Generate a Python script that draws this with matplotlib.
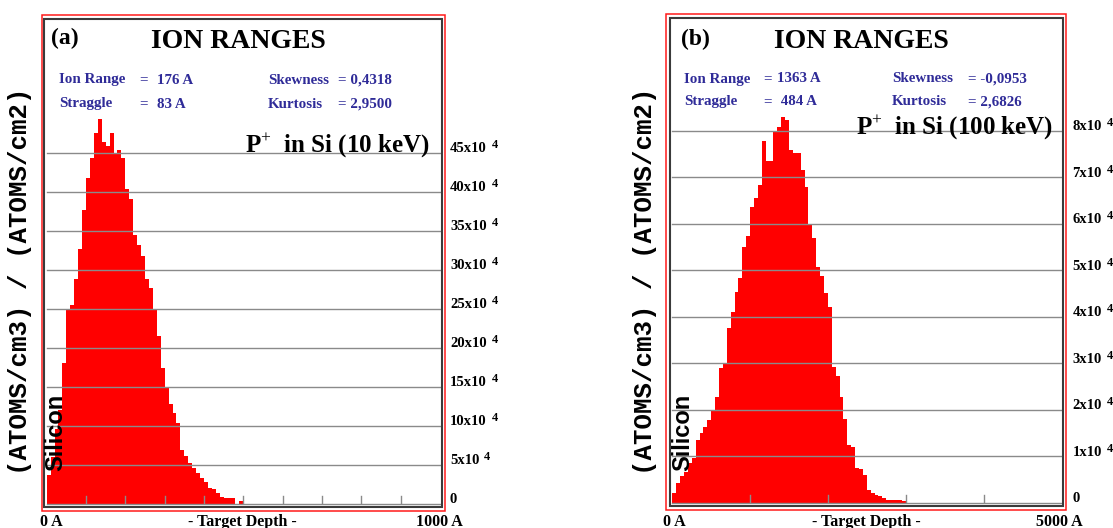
import matplotlib
matplotlib.use("Agg")
import matplotlib.pyplot as plt
from matplotlib.patches import Rectangle
import numpy as np

W, H = 1113, 528

# implanted P profiles, concentration in units of 10^4 (atoms/cm3)/(atoms/cm2)
bin_a = 10      # Angstrom
conc_a = [3.7, 6.0, 9.5, 12.0, 18.0, 24.9, 25.5, 28.8, 32.6, 37.7,
          41.8, 44.3, 47.5, 49.3, 46.4, 45.8, 47.5, 45.0, 45.4, 44.3,
          40.3, 39.0, 34.4, 33.2, 31.7, 28.8, 27.6, 24.9, 21.5, 17.4,
          14.8, 12.7, 11.6, 10.3, 6.9, 6.1, 5.2, 4.6, 3.9, 3.3,
          2.7, 2.0, 1.8, 1.4, 0.8, 0.7, 0.7, 0.7, 0.0, 0.3]
grid_a = [0, 5, 10, 15, 20, 25, 30, 35, 40, 45]
depth_max_a = 1000

bin_b = 50
conc_b = [0.21, 0.42, 0.57, 0.67, 0.85, 0.97, 1.35, 1.50, 1.64, 1.78,
          2.00, 2.28, 2.90, 3.00, 3.76, 4.10, 4.54, 4.83, 5.51, 5.73,
          6.35, 6.55, 6.84, 7.77, 7.34, 7.34, 7.98, 8.08, 8.30, 8.22,
          7.59, 7.53, 7.53, 7.16, 6.80, 5.98, 5.69, 5.08, 4.87, 4.51,
          4.22, 2.93, 2.72, 2.28, 1.80, 1.25, 1.21, 0.75, 0.72, 0.60,
          0.28, 0.21, 0.18, 0.16, 0.11, 0.07, 0.07, 0.06, 0.06, 0.05]
grid_b = [0, 1, 2, 3, 4, 5, 6, 7, 8]
depth_max_b = 5000

stats_a = [("Ion Range", "=", "176 A"), ("Straggle", "=", "83 A")]
moments_a = [("Skewness", "= 0,4318"), ("Kurtosis", "= 2,9500")]
stats_b = [("Ion Range", "=", "1363 A"), ("Straggle", "=", " 484 A")]
moments_b = [("Skewness", "= -0,0953"), ("Kurtosis", "= 2,6826")]

SERIF = "Liberation Serif"
plt.rcParams["mathtext.fontset"] = "custom"
plt.rcParams["mathtext.rm"] = SERIF
plt.rcParams["mathtext.bf"] = SERIF + ":bold"


def fbox(left, top, right, bottom):
    return [left / W, 1 - bottom / H, (right - left) / W, (bottom - top) / H]


def fpt(x, y):
    return x / W, 1 - y / H


def frame(fig, left, top, right, bottom, color, lw):
    x, y, w, h = fbox(left, top, right, bottom)
    fig.add_artist(Rectangle((x, y), w, h, transform=fig.transFigure,
                             fill=False, edgecolor=color, linewidth=lw))


def panel(fig, conc, bw, xmax, grid, tick_step, lay):
    # outer red border and dark inner border
    frame(fig, *lay["red"], "#ff1a1a", 1.1)
    frame(fig, *lay["dark"], "#3a3a3a", 1.5)

    left, right, base, top, top_val, top_px = lay["plot"]
    ax = fig.add_axes(fbox(left, top, right, base))
    ax.patch.set_alpha(0)
    for s in ax.spines.values():
        s.set_visible(False)
    ax.set_xticks([])
    ax.set_yticks([])
    ax.set_xlim(0, xmax)
    ax.set_ylim(0, top_val * (base - top) / (base - top_px))

    edges = np.arange(len(conc) + 1) * bw
    ax.stairs(conc, edges, fill=True, color="#ff0000", linewidth=0, zorder=1)

    for v in grid:
        ax.axhline(v, color="#8a8a8a", linewidth=1.0, zorder=2, clip_on=False)
    for t in np.arange(tick_step, xmax, tick_step):
        ax.plot([t, t], [0, 0.016], transform=ax.get_xaxis_transform(),
                color="#8a8a8a", linewidth=1.0, zorder=2)

    # right-hand scale labels
    for v in grid:
        if v == 0:
            ax.annotate("0", xy=(1, v), xycoords=("axes fraction", "data"),
                        xytext=(lay["lab_dx"], 4), textcoords="offset pixels",
                        ha="left", va="center", fontsize=10.5, family=SERIF,
                        fontweight="bold", annotation_clip=False)
            continue
        t = ax.annotate(f"{v}x10", xy=(1, v), xycoords=("axes fraction", "data"),
                        xytext=(lay["lab_dx"], 4), textcoords="offset pixels",
                        ha="left", va="center", fontsize=10.5, family=SERIF,
                        fontweight="bold", annotation_clip=False)
        ax.annotate("4", xy=(1, 1), xycoords=t, xytext=(5, 3),
                    textcoords="offset pixels", ha="left", va="top",
                    fontsize=9, family=SERIF, fontweight="bold",
                    annotation_clip=False)

    # headings
    fig.text(*fpt(*lay["tag"]), lay["tag_text"], ha="center", va="center",
             fontsize=17, family=SERIF, fontweight="bold")
    fig.text(*fpt(*lay["title"]), "ION RANGES", ha="center", va="center",
             fontsize=20, family=SERIF, fontweight="bold")

    blue = "#2f2b98"
    (c1, c2, c3, c4, c5), (r1, r2) = lay["cols"], lay["rows"]
    for (name, eq, val), (mname, mval), y in zip(lay["stats"], lay["moments"], (r1, r2)):
        for x, s in ((c1, name), (c2, eq), (c3, val), (c4, mname), (c5, mval)):
            fig.text(*fpt(x, y), s, ha="left", va="center", fontsize=10.8,
                     family=SERIF, fontweight="bold", color=blue)

    fig.text(*fpt(*lay["ion"]), lay["ion_text"], ha="right", va="baseline",
             fontsize=18, family=SERIF, fontweight="bold")

    fig.text(*fpt(*lay["ylab"]), "(ATOMS/cm3) / (ATOMS/cm2)", rotation=90,
             ha="center", va="center", fontsize=18.5,
             family="Liberation Mono", fontweight="bold")
    fig.text(*fpt(*lay["target"]), "Silicon", rotation=90, ha="center",
             va="center", fontsize=17, family="Liberation Sans",
             fontweight="bold", zorder=5)

    # depth axis captions
    y0 = lay["xcap_y"]
    fig.text(*fpt(lay["xcap"][0], y0), "0 A", ha="left", va="baseline",
             fontsize=11.5, family=SERIF, fontweight="bold")
    fig.text(*fpt(lay["xcap"][1], y0), "- Target Depth -", ha="center",
             va="baseline", fontsize=11.5, family=SERIF, fontweight="bold")
    fig.text(*fpt(lay["xcap"][2], y0), f"{xmax} A", ha="left", va="baseline",
             fontsize=11.5, family=SERIF, fontweight="bold")


fig = plt.figure(figsize=(W / 100, H / 100), dpi=100)

panel(fig, conc_a, bin_a, depth_max_a, grid_a, 100, dict(
    red=(41.5, 14.8, 444.5, 510.5), dark=(44.2, 18.5, 441.5, 506.8),
    plot=(46.7, 440.0, 503.5, 19.5, 45, 152.7), lab_dx=10,
    tag=(64.5, 38), tag_text="(a)", title=(238, 41),
    cols=(59, 139, 157, 268, 338), rows=(80, 104),
    stats=stats_a, moments=moments_a,
    ion=(430, 153), ion_text=r"P$^{+}$  in Si (10 keV)",
    ylab=(20, 281.5), target=(56, 432),
    xcap=(40, 242.5, 416.5), xcap_y=525.5))

panel(fig, conc_b, bin_b, depth_max_b, grid_b, 1000, dict(
    red=(666.5, 14.0, 1066.0, 509.5), dark=(670.0, 17.5, 1063.3, 505.5),
    plot=(672.3, 1061.3, 503.0, 18.5, 8, 130.7), lab_dx=11,
    tag=(695, 39), tag_text="(b)", title=(861.7, 41),
    cols=(684, 763, 777, 892, 968), rows=(79, 101.7),
    stats=stats_b, moments=moments_b,
    ion=(1053, 135), ion_text=r"P$^{+}$  in Si (100 keV)",
    ylab=(645, 281), target=(683, 432),
    xcap=(663, 866, 1036.5), xcap_y=525.5))

fig.savefig("out.png", dpi=100, facecolor="white")
